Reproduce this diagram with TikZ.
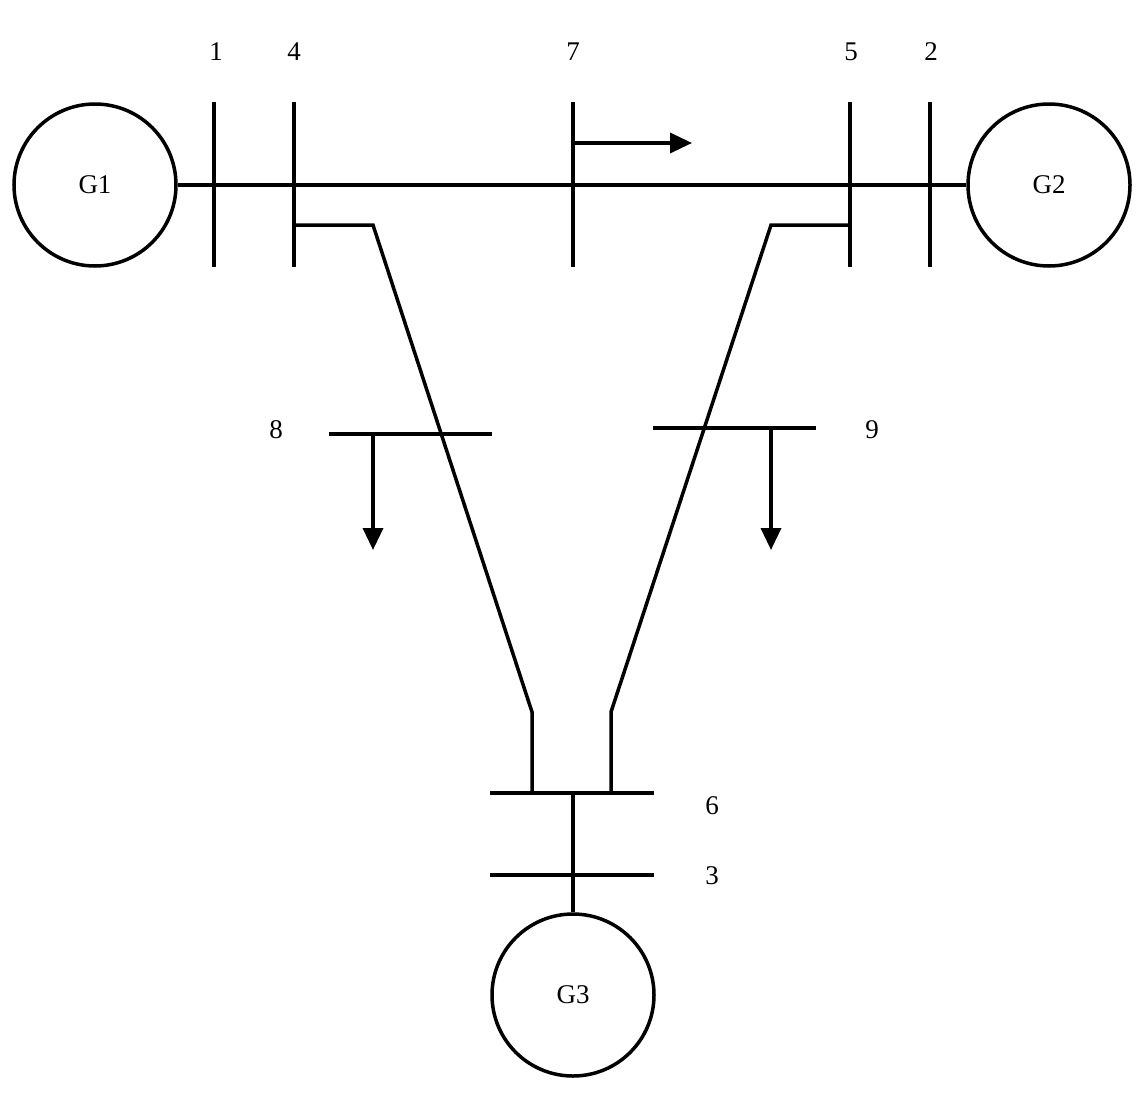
\documentclass[tikz,border=0pt]{standalone}
\usepackage{fontspec}
\setmainfont{Liberation Serif}
\usetikzlibrary{arrows.meta}
\begin{document}
\begin{tikzpicture}[x=1pt,y=-1pt,line width=3.5pt,
  lbl/.style={font=\fontsize{27}{30}\selectfont,inner sep=0pt},
  gen/.style={circle,draw,minimum size=162pt,inner sep=0pt,font=\fontsize{27}{30}\selectfont},
  arr/.style={-{Triangle[length=22pt,width=20pt]}}]
\useasboundingbox (0,0) rectangle (1142,1092);
\node[gen] (g1) at (95,185) {G1};
\node[gen] (g2) at (1049,185) {G2};
\node[gen] (g3) at (573,995) {G3};
% vertical buses
\foreach \n/\x in {b1/214,b4/294,b7/573,b5/850,b2/930}{
  \coordinate (\n t) at (\x,102); \coordinate (\n b) at (\x,267);
  \draw (\n t) -- (\n b);}
\draw (g1.east) -- (g2.west);
% bus 6,3
\coordinate (b6l) at (490,793); \coordinate (b6r) at (654,793);
\coordinate (b3l) at (490,875); \coordinate (b3r) at (654,875);
\draw (b6l) -- (b6r); \draw (b3l) -- (b3r);
\draw (573,793) -- (g3.north);
% branches
\draw (294,225) -- (373,225) -- (532,712) -- (532,793);
\draw (850,225) -- (771,225) -- (611,712) -- (611,793);
% bus 8, 9
\coordinate (b8l) at (329,434); \coordinate (b8r) at (492,434);
\coordinate (b9l) at (653,428); \coordinate (b9r) at (816,428);
\draw (b8l) -- (b8r); \draw (b9l) -- (b9r);
\coordinate (l8) at (373,550); \coordinate (l9) at (771,550);
\draw[arr] (373,434) -- (l8);
\draw[arr] (771,428) -- (l9);
\coordinate (f7) at (692,143);
\draw[arr] (573,143) -- (f7);
% labels
\node[lbl] at (216,52) {1};
\node[lbl] at (294,52) {4};
\node[lbl] at (573,52) {7};
\node[lbl] at (851,52) {5};
\node[lbl] at (931,52) {2};
\node[lbl] at (276,430) {8};
\node[lbl] at (872,430) {9};
\node[lbl] at (712,806) {6};
\node[lbl] at (712,876) {3};
\end{tikzpicture}
\end{document}
